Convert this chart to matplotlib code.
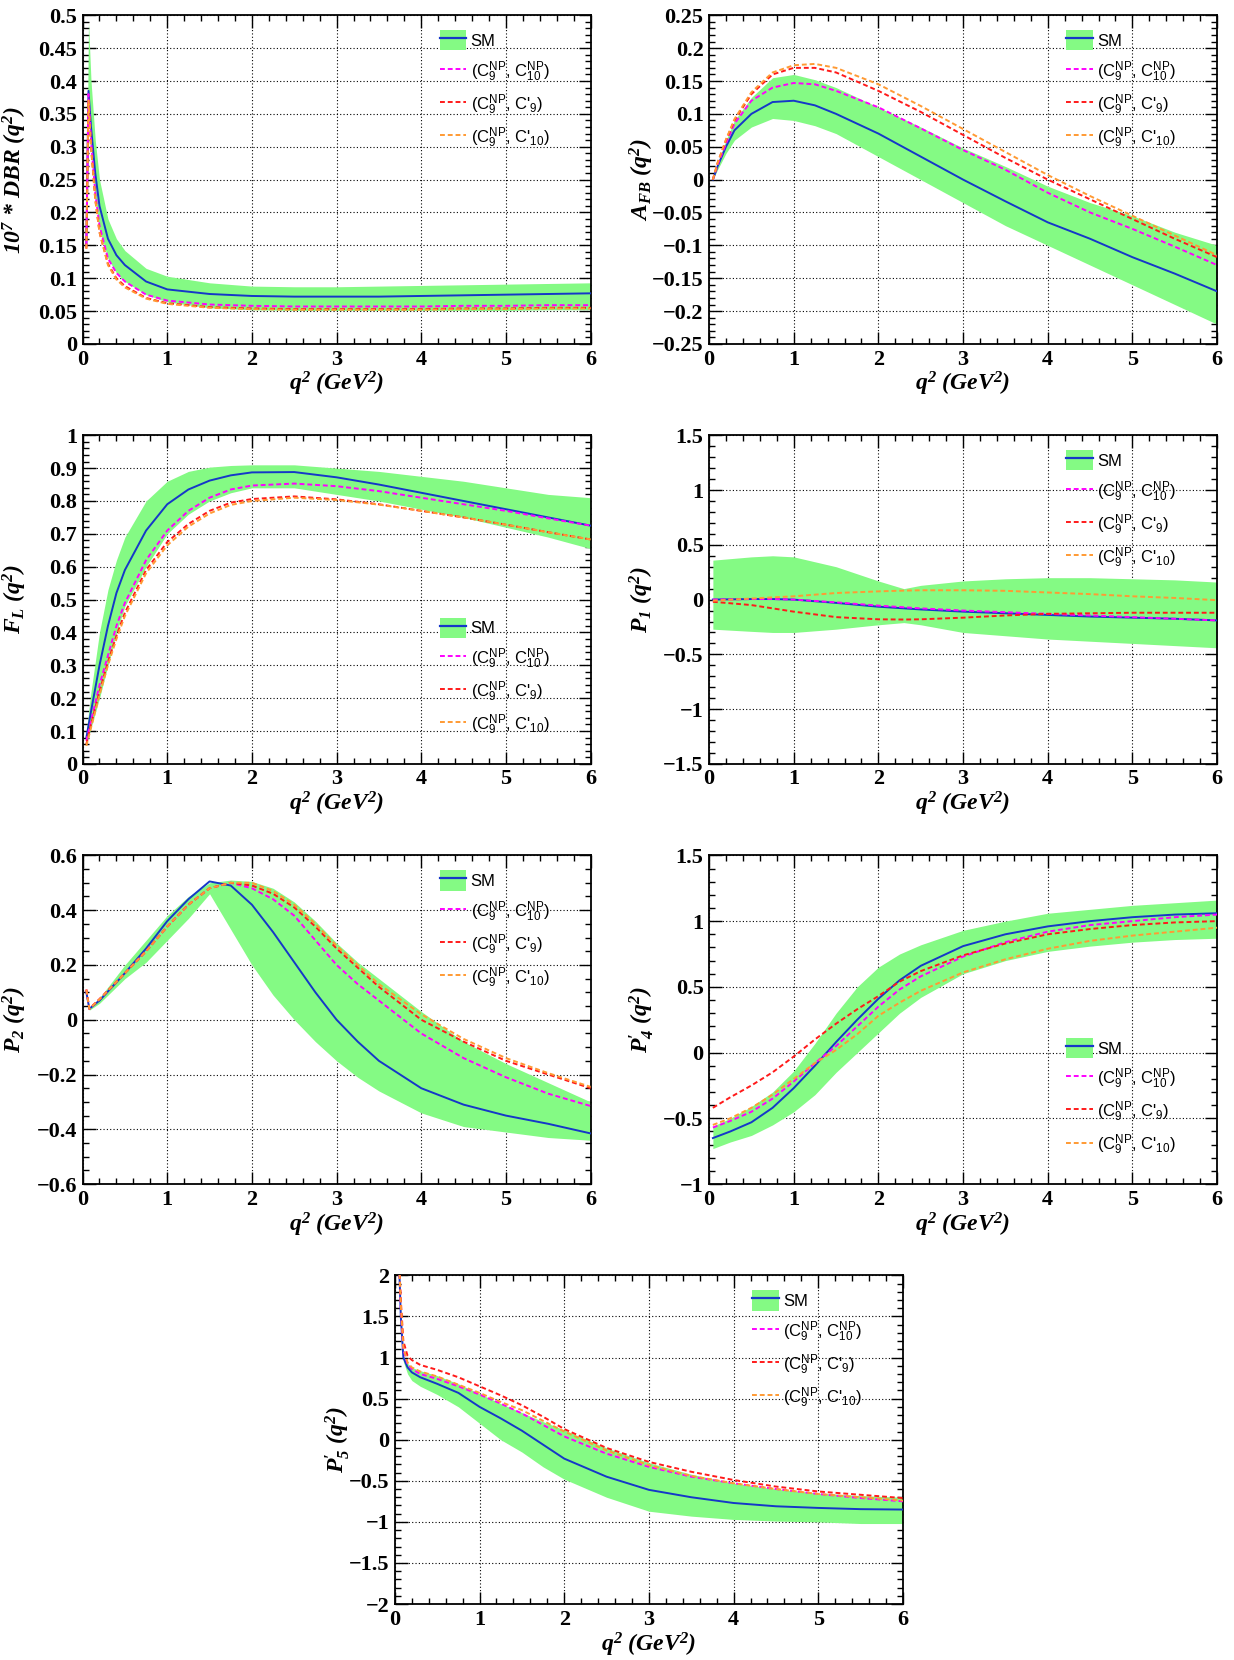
import matplotlib
matplotlib.use("Agg")
import matplotlib.pyplot as plt
from matplotlib.ticker import MultipleLocator, AutoMinorLocator, FuncFormatter
from matplotlib.patches import Patch
from matplotlib.lines import Line2D

plt.rcParams['mathtext.default'] = 'regular'

# ---- data ----
# differential branching ratio (x 1e7)
dbr_q = [0.045, 0.07, 0.1, 0.15, 0.2, 0.3, 0.4, 0.5, 0.75, 1.0, 1.5, 2.0, 2.5, 3.0, 3.5, 4.0, 4.5, 5.0, 5.5, 6.0]
dbr_sm = [0.15, 0.385, 0.33, 0.26, 0.21, 0.16, 0.135, 0.12, 0.095, 0.083, 0.076, 0.073, 0.072, 0.072, 0.072, 0.073, 0.074, 0.075, 0.076, 0.077]
dbr_lo = [0.14, 0.36, 0.30, 0.22, 0.175, 0.13, 0.108, 0.095, 0.075, 0.064, 0.055, 0.052, 0.051, 0.051, 0.051, 0.051, 0.051, 0.051, 0.052, 0.052]
dbr_hi = [0.16, 0.49, 0.40, 0.31, 0.25, 0.19, 0.16, 0.142, 0.115, 0.103, 0.093, 0.088, 0.087, 0.087, 0.088, 0.089, 0.090, 0.091, 0.092, 0.093]
dbr_np1 = [0.15, 0.38, 0.31, 0.23, 0.18, 0.13, 0.108, 0.095, 0.075, 0.066, 0.060, 0.058, 0.057, 0.057, 0.057, 0.057, 0.058, 0.058, 0.059, 0.059]
dbr_np2 = [0.145, 0.37, 0.30, 0.22, 0.17, 0.122, 0.100, 0.088, 0.070, 0.062, 0.056, 0.054, 0.053, 0.053, 0.053, 0.053, 0.054, 0.054, 0.055, 0.055]
dbr_np3 = [0.145, 0.37, 0.30, 0.22, 0.17, 0.120, 0.098, 0.086, 0.069, 0.061, 0.055, 0.053, 0.052, 0.052, 0.052, 0.052, 0.053, 0.053, 0.054, 0.054]

# forward-backward asymmetry
afb_q = [0.045, 0.1, 0.2, 0.3, 0.5, 0.75, 1.0, 1.25, 1.5, 2.0, 2.5, 3.0, 3.5, 4.0, 4.5, 5.0, 5.5, 6.0]
afb_sm = [0.0, 0.02, 0.05, 0.075, 0.10, 0.118, 0.12, 0.113, 0.10, 0.07, 0.035, 0.0, -0.033, -0.065, -0.09, -0.118, -0.143, -0.17]
afb_lo = [0.0, 0.015, 0.04, 0.06, 0.08, 0.093, 0.09, 0.082, 0.07, 0.035, 0.0, -0.035, -0.07, -0.10, -0.13, -0.16, -0.19, -0.22]
afb_hi = [0.005, 0.025, 0.06, 0.09, 0.125, 0.155, 0.16, 0.152, 0.14, 0.11, 0.08, 0.048, 0.02, -0.01, -0.035, -0.055, -0.08, -0.10]
afb_np1 = [0.0, 0.022, 0.055, 0.085, 0.12, 0.14, 0.147, 0.145, 0.135, 0.11, 0.078, 0.045, 0.015, -0.02, -0.05, -0.075, -0.102, -0.13]
afb_np2 = [0.0, 0.025, 0.06, 0.09, 0.13, 0.16, 0.17, 0.17, 0.163, 0.135, 0.103, 0.068, 0.033, 0.0, -0.03, -0.06, -0.09, -0.118]
afb_np3 = [0.0, 0.025, 0.061, 0.092, 0.133, 0.163, 0.174, 0.176, 0.17, 0.145, 0.112, 0.077, 0.042, 0.007, -0.025, -0.055, -0.085, -0.115]

# longitudinal polarisation fraction
fl_q = [0.045, 0.1, 0.2, 0.3, 0.4, 0.5, 0.75, 1.0, 1.25, 1.5, 1.75, 2.0, 2.5, 3.0, 3.5, 4.0, 4.5, 5.0, 5.5, 6.0]
fl_sm = [0.08, 0.16, 0.30, 0.42, 0.52, 0.59, 0.71, 0.79, 0.835, 0.862, 0.878, 0.887, 0.888, 0.872, 0.85, 0.825, 0.80, 0.775, 0.75, 0.725]
fl_lo = [0.06, 0.11, 0.20, 0.30, 0.40, 0.48, 0.60, 0.70, 0.76, 0.80, 0.825, 0.84, 0.84, 0.82, 0.80, 0.775, 0.75, 0.72, 0.69, 0.655]
fl_hi = [0.10, 0.22, 0.40, 0.53, 0.62, 0.69, 0.80, 0.86, 0.89, 0.903, 0.908, 0.91, 0.91, 0.90, 0.89, 0.875, 0.86, 0.84, 0.82, 0.81]
fl_np1 = [0.07, 0.13, 0.24, 0.33, 0.42, 0.49, 0.62, 0.71, 0.77, 0.81, 0.835, 0.847, 0.853, 0.845, 0.83, 0.81, 0.79, 0.77, 0.747, 0.725]
fl_np2 = [0.06, 0.12, 0.22, 0.31, 0.39, 0.46, 0.59, 0.675, 0.73, 0.77, 0.795, 0.806, 0.814, 0.805, 0.79, 0.77, 0.75, 0.728, 0.705, 0.683]
fl_np3 = [0.055, 0.11, 0.21, 0.30, 0.38, 0.45, 0.58, 0.665, 0.722, 0.762, 0.788, 0.80, 0.81, 0.803, 0.789, 0.77, 0.75, 0.728, 0.705, 0.683]

# P1
p1_q = [0.045, 0.5, 0.75, 1.0, 1.5, 2.0, 2.3, 2.5, 3.0, 3.5, 4.0, 4.5, 5.0, 5.5, 6.0]
p1_sm = [0.0, 0.005, 0.005, 0.0, -0.03, -0.065, -0.08, -0.09, -0.11, -0.125, -0.14, -0.155, -0.165, -0.175, -0.19]
p1_lo = [-0.27, -0.29, -0.30, -0.30, -0.27, -0.23, -0.21, -0.23, -0.30, -0.33, -0.36, -0.38, -0.40, -0.42, -0.44]
p1_hi = [0.36, 0.39, 0.40, 0.39, 0.30, 0.17, 0.10, 0.13, 0.17, 0.19, 0.20, 0.20, 0.19, 0.18, 0.16]
p1_np1 = [0.0, 0.005, 0.005, 0.0, -0.025, -0.055, -0.07, -0.08, -0.10, -0.115, -0.13, -0.145, -0.16, -0.175, -0.19]
p1_np2 = [-0.02, -0.05, -0.08, -0.11, -0.16, -0.18, -0.182, -0.18, -0.165, -0.145, -0.13, -0.125, -0.12, -0.12, -0.12]
p1_np3 = [-0.01, 0.01, 0.02, 0.03, 0.06, 0.075, 0.082, 0.085, 0.085, 0.08, 0.065, 0.05, 0.03, 0.015, -0.005]

# P2
p2_q = [0.045, 0.08, 0.2, 0.5, 0.75, 1.0, 1.25, 1.5, 1.75, 2.0, 2.25, 2.5, 2.75, 3.0, 3.25, 3.5, 4.0, 4.5, 5.0, 5.5, 6.0]
p2_sm = [0.10, 0.04, 0.07, 0.17, 0.26, 0.36, 0.44, 0.505, 0.49, 0.42, 0.32, 0.21, 0.10, 0.0, -0.08, -0.15, -0.25, -0.31, -0.35, -0.38, -0.415]
p2_lo = [0.09, 0.035, 0.06, 0.15, 0.21, 0.29, 0.37, 0.46, 0.33, 0.20, 0.09, 0.0, -0.08, -0.15, -0.21, -0.26, -0.34, -0.39, -0.41, -0.43, -0.44]
p2_hi = [0.11, 0.045, 0.08, 0.20, 0.29, 0.38, 0.45, 0.50, 0.51, 0.505, 0.48, 0.43, 0.36, 0.28, 0.21, 0.15, 0.03, -0.08, -0.16, -0.23, -0.30]
p2_np1 = [0.11, 0.04, 0.075, 0.17, 0.25, 0.34, 0.42, 0.48, 0.50, 0.48, 0.44, 0.38, 0.29, 0.20, 0.13, 0.07, -0.05, -0.14, -0.21, -0.27, -0.315]
p2_np2 = [0.11, 0.04, 0.075, 0.17, 0.25, 0.34, 0.42, 0.48, 0.50, 0.49, 0.46, 0.41, 0.34, 0.26, 0.19, 0.12, 0.0, -0.08, -0.15, -0.20, -0.25]
p2_np3 = [0.11, 0.04, 0.075, 0.17, 0.25, 0.34, 0.42, 0.48, 0.50, 0.50, 0.47, 0.42, 0.35, 0.27, 0.20, 0.13, 0.02, -0.07, -0.14, -0.195, -0.245]

# P4'
p4_q = [0.045, 0.25, 0.5, 0.75, 1.0, 1.25, 1.5, 1.75, 2.0, 2.25, 2.5, 3.0, 3.5, 4.0, 4.5, 5.0, 5.5, 6.0]
p4_sm = [-0.65, -0.60, -0.53, -0.42, -0.27, -0.10, 0.08, 0.25, 0.41, 0.55, 0.66, 0.81, 0.90, 0.96, 1.00, 1.03, 1.05, 1.06]
p4_lo = [-0.73, -0.68, -0.63, -0.55, -0.45, -0.32, -0.15, 0.0, 0.15, 0.30, 0.42, 0.60, 0.70, 0.77, 0.81, 0.84, 0.86, 0.87]
p4_hi = [-0.56, -0.50, -0.41, -0.30, -0.14, 0.07, 0.30, 0.50, 0.65, 0.75, 0.82, 0.93, 1.00, 1.06, 1.09, 1.12, 1.14, 1.16]
p4_np1 = [-0.57, -0.52, -0.45, -0.35, -0.22, -0.08, 0.05, 0.20, 0.35, 0.48, 0.58, 0.73, 0.84, 0.92, 0.97, 1.00, 1.03, 1.05]
p4_np2 = [-0.42, -0.34, -0.25, -0.15, -0.03, 0.10, 0.22, 0.33, 0.43, 0.54, 0.62, 0.74, 0.83, 0.90, 0.94, 0.97, 0.99, 1.00]
p4_np3 = [-0.55, -0.50, -0.42, -0.32, -0.20, -0.08, 0.02, 0.14, 0.28, 0.38, 0.47, 0.61, 0.71, 0.79, 0.85, 0.89, 0.92, 0.95]

# P5'
p5_q = [0.045, 0.07, 0.1, 0.15, 0.2, 0.3, 0.5, 0.75, 1.0, 1.25, 1.5, 1.75, 2.0, 2.5, 3.0, 3.5, 4.0, 4.5, 5.0, 5.5, 6.0]
p5_sm = [2.3, 1.5, 1.0, 0.88, 0.82, 0.76, 0.68, 0.57, 0.40, 0.26, 0.11, -0.06, -0.23, -0.45, -0.61, -0.70, -0.77, -0.81, -0.83, -0.845, -0.85]
p5_lo = [2.3, 1.45, 0.95, 0.80, 0.72, 0.65, 0.55, 0.40, 0.20, 0.0, -0.15, -0.33, -0.48, -0.70, -0.87, -0.93, -0.97, -0.99, -1.00, -1.02, -1.02]
p5_hi = [2.3, 1.55, 1.02, 0.93, 0.88, 0.84, 0.78, 0.68, 0.56, 0.44, 0.33, 0.22, 0.12, -0.10, -0.28, -0.42, -0.53, -0.60, -0.65, -0.68, -0.70]
p5_np1 = [2.3, 1.6, 1.1, 0.92, 0.86, 0.80, 0.74, 0.65, 0.55, 0.44, 0.32, 0.18, 0.04, -0.17, -0.33, -0.45, -0.53, -0.60, -0.66, -0.71, -0.75]
p5_np2 = [2.3, 1.7, 1.2, 1.02, 0.97, 0.91, 0.85, 0.76, 0.65, 0.54, 0.42, 0.28, 0.13, -0.10, -0.27, -0.39, -0.49, -0.57, -0.63, -0.67, -0.71]
p5_np3 = [2.3, 1.65, 1.12, 0.94, 0.88, 0.83, 0.77, 0.67, 0.57, 0.46, 0.36, 0.23, 0.10, -0.13, -0.31, -0.44, -0.53, -0.60, -0.66, -0.70, -0.74]

labels = ['SM', '(C$_9^{NP}$, C$_{10}^{NP}$)', "(C$_9^{NP}$, C'$_9$)", "(C$_9^{NP}$, C'$_{10}$)"]

band_col = '#84fa84'
sm_col = '#1538c8'
np_cols = ['#ff00ff', '#ff1a1a', '#ff9a33']

serif = 'Liberation Serif'
sans = 'Liberation Sans'


def fmt(v, pos):
    s = f'{round(v, 4):g}'
    return s.replace('-', '\u2212')


def draw(ax, q, sm, lo, hi, nps, ylim, ymaj, nmin, ylabel, leg_y, labx=-0.105):
    ax.fill_between(q, lo, hi, color=band_col, lw=0, zorder=2)
    ax.plot(q, sm, color=sm_col, lw=1.4, zorder=4)
    for vals, c in zip(nps, np_cols):
        ax.plot(q, vals, color=c, lw=1.4, ls=(0, (2.5, 1.5)), zorder=5)
    ax.set_xlim(0, 6)
    ax.set_ylim(*ylim)
    ax.xaxis.set_major_locator(MultipleLocator(1))
    ax.xaxis.set_minor_locator(MultipleLocator(0.2))
    ax.yaxis.set_major_locator(MultipleLocator(ymaj))
    ax.yaxis.set_minor_locator(AutoMinorLocator(nmin))
    ax.xaxis.set_major_formatter(FuncFormatter(fmt))
    ax.yaxis.set_major_formatter(FuncFormatter(fmt))
    ax.tick_params(which='both', direction='in', top=True, right=True, width=1.0, pad=4)
    ax.tick_params(which='major', length=9)
    ax.tick_params(which='minor', length=4.5)
    for lab in ax.get_xticklabels() + ax.get_yticklabels():
        lab.set_fontfamily(serif)
        lab.set_fontweight('bold')
        lab.set_fontsize(16)
    ax.grid(True, which='major', ls=(0, (1, 2)), color='black', lw=0.8)
    ax.set_axisbelow(True)
    for sp in ax.spines.values():
        sp.set_linewidth(1.3)
    ax.set_xlabel('$q^2$ (GeV$^2$)', fontfamily=serif, fontweight='bold', fontstyle='italic', fontsize=17)
    ax.xaxis.set_label_coords(0.5, -0.08)
    ax.set_ylabel(ylabel, fontfamily=serif, fontweight='bold', fontstyle='italic', fontsize=17)
    ax.yaxis.set_label_coords(labx, 0.5)

    handles = [(Patch(facecolor=band_col, edgecolor='none'), Line2D([], [], color=sm_col, lw=1.6))]
    for c in np_cols:
        handles.append(Line2D([], [], color=c, lw=1.4, ls=(0, (2.5, 1.5))))
    ax.legend(handles, labels, loc='upper left', bbox_to_anchor=(0.69, leg_y), frameon=False,
              prop={'family': sans, 'size': 12}, handlelength=1.6, handleheight=1.5,
              handletextpad=0.25, labelspacing=0.52, borderaxespad=0)


fig = plt.figure(figsize=(12.34, 16.6), dpi=100)
W, H = 0.4117, 0.198
c1, c2, c3 = 0.0669, 0.5746, 0.320
rows = [0.7928, 0.5398, 0.2867, 0.0337]

ax = fig.add_axes([c1, rows[0], W, H])
draw(ax, dbr_q, dbr_sm, dbr_lo, dbr_hi, [dbr_np1, dbr_np2, dbr_np3], (0, 0.5), 0.05, 5,
     '10$^7$ * DBR ($q^2$)', 0.975)

ax = fig.add_axes([c2, rows[0], W, H])
draw(ax, afb_q, afb_sm, afb_lo, afb_hi, [afb_np1, afb_np2, afb_np3], (-0.25, 0.25), 0.05, 5,
     'A$_{FB}$ ($q^2$)', 0.975)

ax = fig.add_axes([c1, rows[1], W, H])
draw(ax, fl_q, fl_sm, fl_lo, fl_hi, [fl_np1, fl_np2, fl_np3], (0, 1), 0.1, 5,
     'F$_L$ ($q^2$)', 0.465)

ax = fig.add_axes([c2, rows[1], W, H])
draw(ax, p1_q, p1_sm, p1_lo, p1_hi, [p1_np1, p1_np2, p1_np3], (-1.5, 1.5), 0.5, 5,
     'P$_1$ ($q^2$)', 0.975)

ax = fig.add_axes([c1, rows[2], W, H])
draw(ax, p2_q, p2_sm, p2_lo, p2_hi, [p2_np1, p2_np2, p2_np3], (-0.6, 0.6), 0.2, 4,
     'P$_2$ ($q^2$)', 0.975)

ax = fig.add_axes([c2, rows[2], W, H])
draw(ax, p4_q, p4_sm, p4_lo, p4_hi, [p4_np1, p4_np2, p4_np3], (-1, 1.5), 0.5, 5,
     "P$_4^{\\prime}$ ($q^2$)", 0.465)

ax = fig.add_axes([c3, rows[3], W, H])
draw(ax, p5_q, p5_sm, p5_lo, p5_hi, [p5_np1, p5_np2, p5_np3], (-2, 2), 0.5, 5,
     "P$_5^{\\prime}$ ($q^2$)", 0.975, labx=-0.085)

fig.savefig('out.png', dpi=100)
